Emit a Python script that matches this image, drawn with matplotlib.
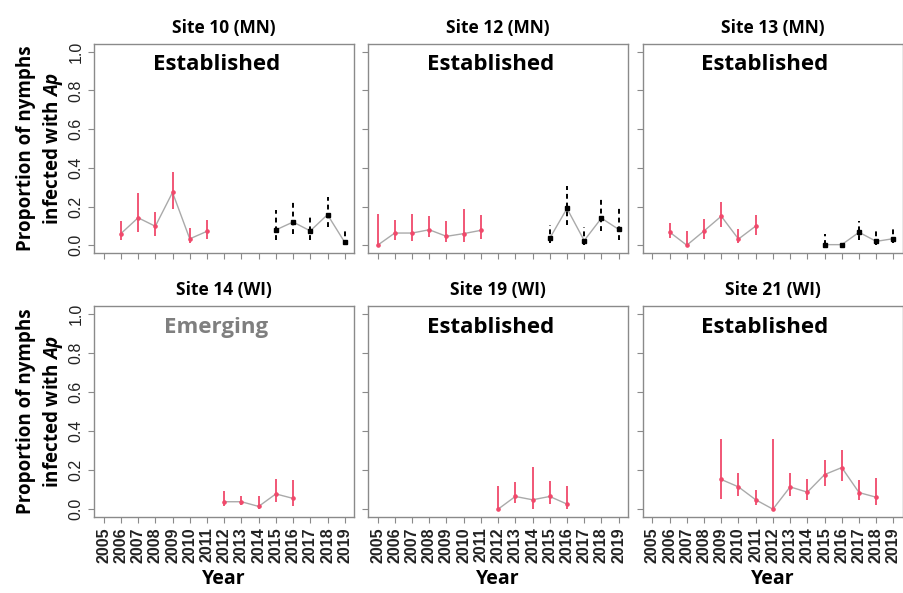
import matplotlib
matplotlib.use('Agg')
import matplotlib.pyplot as plt
import numpy as np

plt.rcParams['font.family'] = ['Open Sans', 'DejaVu Sans']
plt.rcParams['mathtext.fontset'] = 'custom'
plt.rcParams['mathtext.it'] = 'Open Sans:italic:bold'

C_RED = '#f0496b'
C_LINE = '#aaaaaa'
C_FRAME = '#8a8a8a'

# ---- data: (year, proportion, lower CI, upper CI) ----
years_all = list(range(2005, 2020))

s10_red_years = [2006, 2007, 2008, 2009, 2010, 2011]
s10_red_val   = [0.060, 0.142, 0.098, 0.273, 0.033, 0.072]
s10_red_lo    = [0.027, 0.070, 0.050, 0.185, 0.012, 0.034]
s10_red_hi    = [0.123, 0.268, 0.170, 0.380, 0.090, 0.132]
s10_blk_years = [2015, 2016, 2017, 2018, 2019]
s10_blk_val   = [0.079, 0.120, 0.074, 0.158, 0.015]
s10_blk_lo    = [0.026, 0.057, 0.029, 0.093, 0.000]
s10_blk_hi    = [0.183, 0.223, 0.148, 0.249, 0.080]

s12_red_years = [2005, 2006, 2007, 2008, 2009, 2010, 2011]
s12_red_val   = [0.000, 0.063, 0.063, 0.080, 0.046, 0.060, 0.077]
s12_red_lo    = [0.000, 0.027, 0.020, 0.040, 0.015, 0.017, 0.034]
s12_red_hi    = [0.162, 0.128, 0.160, 0.150, 0.123, 0.188, 0.154]
s12_blk_years = [2015, 2016, 2017, 2018, 2019]
s12_blk_val   = [0.036, 0.190, 0.024, 0.140, 0.082]
s12_blk_lo    = [0.010, 0.106, 0.000, 0.072, 0.026]
s12_blk_hi    = [0.104, 0.308, 0.094, 0.240, 0.195]

s13_red_years = [2006, 2007, 2008, 2009, 2010, 2011]
s13_red_val   = [0.068, 0.000, 0.074, 0.150, 0.032, 0.099]
s13_red_lo    = [0.038, 0.000, 0.034, 0.096, 0.010, 0.055]
s13_red_hi    = [0.115, 0.074, 0.137, 0.224, 0.082, 0.157]
s13_blk_years = [2015, 2016, 2017, 2018, 2019]
s13_blk_val   = [0.003, 0.003, 0.067, 0.020, 0.034]
s13_blk_lo    = [0.000, 0.000, 0.027, 0.000, 0.010]
s13_blk_hi    = [0.056, 0.010, 0.125, 0.090, 0.089]

s14_red_years = [2012, 2013, 2014, 2015, 2016]
s14_red_val   = [0.038, 0.038, 0.014, 0.078, 0.055]
s14_red_lo    = [0.014, 0.019, 0.000, 0.036, 0.017]
s14_red_hi    = [0.092, 0.068, 0.068, 0.154, 0.147]

s19_red_years = [2012, 2013, 2014, 2015, 2016]
s19_red_val   = [0.000, 0.065, 0.048, 0.065, 0.026]
s19_red_lo    = [0.000, 0.029, 0.000, 0.027, 0.000]
s19_red_hi    = [0.120, 0.137, 0.217, 0.142, 0.120]

s21_red_years = [2009, 2010, 2011, 2012, 2013, 2014, 2015, 2016, 2017, 2018]
s21_red_val   = [0.152, 0.114, 0.048, 0.000, 0.114, 0.087, 0.177, 0.213, 0.085, 0.061]
s21_red_lo    = [0.053, 0.067, 0.020, 0.000, 0.067, 0.046, 0.121, 0.143, 0.046, 0.020]
s21_red_hi    = [0.360, 0.183, 0.096, 0.357, 0.183, 0.155, 0.254, 0.305, 0.147, 0.162]

panels = [
    ('Site 10 (MN)', 'Established', (s10_red_years, s10_red_val, s10_red_lo, s10_red_hi),
     (s10_blk_years, s10_blk_val, s10_blk_lo, s10_blk_hi)),
    ('Site 12 (MN)', 'Established', (s12_red_years, s12_red_val, s12_red_lo, s12_red_hi),
     (s12_blk_years, s12_blk_val, s12_blk_lo, s12_blk_hi)),
    ('Site 13 (MN)', 'Established', (s13_red_years, s13_red_val, s13_red_lo, s13_red_hi),
     (s13_blk_years, s13_blk_val, s13_blk_lo, s13_blk_hi)),
    ('Site 14 (WI)', 'Emerging', (s14_red_years, s14_red_val, s14_red_lo, s14_red_hi), None),
    ('Site 19 (WI)', 'Established', (s19_red_years, s19_red_val, s19_red_lo, s19_red_hi), None),
    ('Site 21 (WI)', 'Established', (s21_red_years, s21_red_val, s21_red_lo, s21_red_hi), None),
]

fig = plt.figure(figsize=(9.04, 5.93), dpi=100)
lefts = [0.104, 0.407, 0.711]
bottoms = [0.5734, 0.1282]
heights = [0.3524, 0.3558]
width = 0.288

for i, (title, status, red, blk) in enumerate(panels):
    row, col = divmod(i, 3)
    ax = fig.add_axes([lefts[col], bottoms[row], width, heights[row]])

    # red series
    yr, v, lo, hi = red
    ax.plot(yr, v, color=C_LINE, lw=1.0, zorder=1)
    ax.vlines(yr, lo, hi, color=C_RED, lw=1.3, zorder=2)
    ax.plot(yr, v, 'o', color=C_RED, ms=2.3, zorder=3)

    # black series (dashed CI)
    if blk is not None:
        yr, v, lo, hi = blk
        ax.plot(yr, v, color=C_LINE, lw=1.0, zorder=1)
        ax.vlines(yr, lo, hi, color='black', lw=1.4, linestyles=(0, (2.5, 2.0)), zorder=2)
        ax.plot(yr, v, 's', color='black', ms=2.8, zorder=3)

    ax.set_xlim(2004.44, 2019.56)
    ax.set_ylim(-0.04, 1.04)
    ax.set_xticks(years_all)
    ax.set_yticks([0.0, 0.2, 0.4, 0.6, 0.8, 1.0])
    for sp in ax.spines.values():
        sp.set_color(C_FRAME)
        sp.set_linewidth(1.0)
    ax.tick_params(colors=C_FRAME, length=4, width=0.8, labelcolor='#222222')

    if col == 0:
        ax.set_yticklabels(['0.0', '0.2', '0.4', '0.6', '0.8', '1.0'],
                           rotation=90, va='center', family='Liberation Sans', fontsize=11.5)
    else:
        ax.set_yticklabels([])
    if row == 1:
        ax.set_xticklabels([str(y) for y in years_all], rotation=90,
                           family='Liberation Sans', fontweight='bold', fontsize=11.5)
        ax.set_xlabel('Year', fontsize=14, fontweight='bold', labelpad=4)
    else:
        ax.set_xticklabels([])

    ax.set_title(title, fontsize=12.5, fontweight='bold', pad=8)
    ax.text(0.47, 0.90, status, transform=ax.transAxes, ha='center', va='center',
            fontsize=16, fontweight='bold',
            color='#7f7f7f' if status == 'Emerging' else 'black')

for b, h in zip(bottoms, heights):
    fig.text(0.045, b + h / 2, 'Proportion of nymphs\ninfected with $\\mathit{Ap}$',
             rotation=90, ha='center', va='center', fontsize=13.5, fontweight='bold',
             multialignment='center', linespacing=1.3)

fig.savefig('out.png', dpi=100)
